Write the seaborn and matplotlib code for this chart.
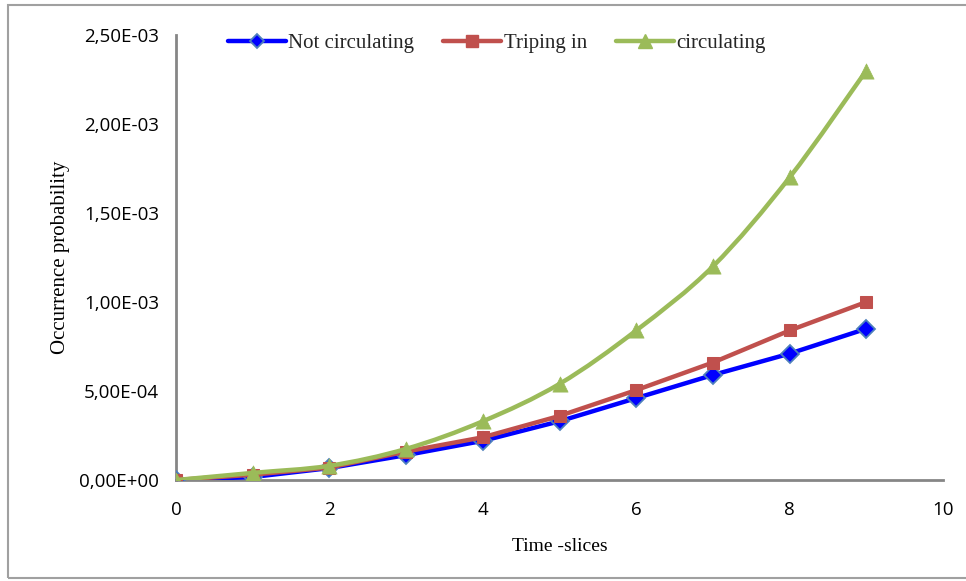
import numpy as np
import pandas as pd
import seaborn as sns
import matplotlib
matplotlib.use("Agg")
import matplotlib.pyplot as plt
from matplotlib.lines import Line2D
from matplotlib.path import Path
from matplotlib.patches import PathPatch, Rectangle
from matplotlib.ticker import FuncFormatter, MultipleLocator

# Time slices and occurrence probabilities per scenario
time_slices = [0, 1, 2, 3, 4, 5, 6, 7, 8, 9]
not_circulating = [0.0, 1.7e-5, 6.7e-5, 1.4e-4, 2.2e-4, 3.3e-4, 4.6e-4, 5.9e-4, 7.1e-4, 8.5e-4]
triping_in = [0.0, 3.0e-5, 7.0e-5, 1.6e-4, 2.4e-4, 3.6e-4, 5.05e-4, 6.6e-4, 8.4e-4, 1.0e-3]
circulating = [0.0, 4.0e-5, 8.0e-5, 1.75e-4, 3.3e-4, 5.4e-4, 8.4e-4, 1.2e-3, 1.7e-3, 2.3e-3]

series_names = ["Not circulating", "Triping in", "circulating"]
x_ticks = [0, 2, 4, 6, 8, 10]
x_label = "Time -slices"
y_label = "Occurrence probability"

sns.set_theme(style="white")
plt.rcParams["font.family"] = ["DejaVu Sans"]

BLUE = "#0000FF"
BLUE_EDGE = "#4F81BD"
RED = "#C0504D"
GREEN = "#9BBB59"
AXIS_GRAY = "#868686"
SERIF = ["Liberation Serif", "DejaVu Serif"]
SANS = ["Open Sans", "DejaVu Sans"]

fig = plt.figure(figsize=(9.66, 5.81), dpi=100)
ax = fig.add_axes([0.1822, 0.1738, 0.7940, 0.7660])

df = pd.DataFrame({"t": time_slices, "nc": not_circulating,
                   "ti": triping_in, "c": circulating})

sns.lineplot(data=df, x="t", y="nc", ax=ax, color=BLUE, lw=3.2,
             marker="D", markersize=9, markerfacecolor=BLUE,
             markeredgecolor=BLUE_EDGE, markeredgewidth=1.3, zorder=3)
sns.lineplot(data=df, x="t", y="ti", ax=ax, color=RED, lw=3.2,
             marker="s", markersize=9, markerfacecolor=RED,
             markeredgecolor=RED, zorder=4)


def smooth_path(xs, ys):
    """Catmull-Rom curve through the points, as cubic Bezier segments."""
    xs = np.asarray(xs, float)
    ys = np.asarray(ys, float)
    pts = np.column_stack([xs, ys])
    n = len(pts)
    verts = [pts[0]]
    codes = [Path.MOVETO]
    for i in range(n - 1):
        p0 = pts[i - 1] if i > 0 else pts[i]
        p1 = pts[i]
        p2 = pts[i + 1]
        p3 = pts[i + 2] if i + 2 < n else pts[i + 1]
        c1 = p1 + (p2 - p0) / 6.0
        c2 = p2 - (p3 - p1) / 6.0
        verts += [c1, c2, p2]
        codes += [Path.CURVE4] * 3
    return Path(verts, codes)


ax.add_patch(PathPatch(smooth_path(time_slices, circulating), facecolor="none",
                       edgecolor=GREEN, lw=3.2, zorder=5, capstyle="round"))
sns.scatterplot(data=df, x="t", y="c", ax=ax, color=GREEN, marker="^",
                s=120, edgecolor=GREEN, linewidth=0.5, zorder=6)

ax.set_xlim(0, 10)
ax.set_ylim(0, 2.5e-3)
ax.set_xticks(x_ticks)
ax.yaxis.set_major_locator(MultipleLocator(5e-4))
ax.yaxis.set_major_formatter(FuncFormatter(lambda v, p: f"{v:.2E}".replace(".", ",")))

for side in ("top", "right"):
    ax.spines[side].set_visible(False)
for side in ("left", "bottom"):
    ax.spines[side].set_color(AXIS_GRAY)
    ax.spines[side].set_linewidth(2.0)

ax.tick_params(axis="both", which="major", direction="out", length=6, width=1.5,
               color=AXIS_GRAY, labelsize=13.5)
ax.tick_params(axis="x", pad=9)
ax.tick_params(axis="y", pad=6)
for lbl in ax.get_xticklabels() + ax.get_yticklabels():
    lbl.set_family(SANS)
    lbl.set_color("black")

ax.set_xlabel(x_label, fontsize=14, family=SERIF, color="black", labelpad=14)
ax.set_ylabel(y_label, fontsize=15, family=SERIF, color="black", labelpad=7)

handles = [
    Line2D([], [], color=BLUE, lw=3.2, marker="D", markersize=7,
           markerfacecolor=BLUE, markeredgecolor=BLUE_EDGE, markeredgewidth=1.3),
    Line2D([], [], color=RED, lw=3.2, marker="s", markersize=9,
           markerfacecolor=RED, markeredgecolor=RED),
    Line2D([], [], color=GREEN, lw=3.2, marker="^", markersize=10,
           markerfacecolor=GREEN, markeredgecolor=GREEN),
]
ax.legend(handles, series_names, loc="upper center", bbox_to_anchor=(0.418, 1.045),
          ncol=3, frameon=False, prop={"family": SERIF, "size": 15},
          handlelength=2.8, handletextpad=0.1, columnspacing=1.4)

# Thin gray frame around the chart area (its right edge runs past the canvas)
fig.add_artist(Rectangle((0.0083, 0.005), 1.05, 0.986, transform=fig.transFigure,
                         fill=False, edgecolor="#A0A0A0", lw=1.5))

fig.savefig("out.png", dpi=100)
